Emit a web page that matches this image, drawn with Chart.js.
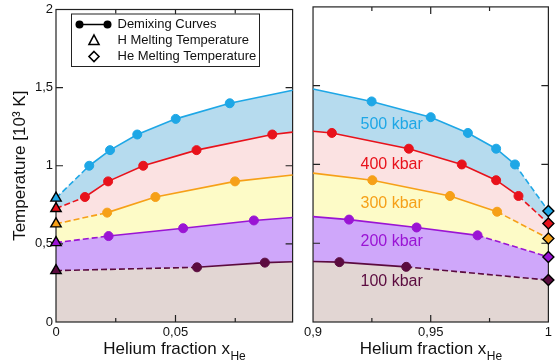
<!DOCTYPE html>
<html>
<head>
<meta charset="utf-8">
<script src="https://cdn.jsdelivr.net/npm/chart.js@4.4.1/dist/chart.umd.min.js"></script>
<style>
  html, body { margin: 0; padding: 0; background: #fff; }
  #wrap { position: relative; width: 556px; height: 363px; overflow: hidden; }
  canvas { position: absolute; top: 0; }
</style>
</head>
<body>
<div id="wrap">
  <canvas id="left" width="300" height="363" style="left:0"></canvas>
  <canvas id="right" width="256" height="363" style="left:300px"></canvas>
</div>
<script>
// demixing curves, temperatures in 10^3 K
const pressures = ['100 kbar', '200 kbar', '300 kbar', '400 kbar', '500 kbar'];

// H-rich side: first point is the H melting temperature (x = 0)
const xL100 = [0, 0.059, 0.0874, 0.099];
const tL100 = [0.329, 0.35, 0.38, 0.386];
const xL200 = [0, 0.022, 0.0532, 0.0828, 0.099];
const tL200 = [0.508, 0.55, 0.6, 0.65, 0.669];
const xL300 = [0, 0.0214, 0.0416, 0.0749, 0.099];
const tL300 = [0.628, 0.7, 0.8, 0.9, 0.941];
const xL400 = [0, 0.0121, 0.0218, 0.0365, 0.0588, 0.0905, 0.099];
const tL400 = [0.726, 0.8, 0.9, 1.0, 1.1, 1.2, 1.215];
const xL500 = [0, 0.0139, 0.0226, 0.034, 0.0501, 0.0727, 0.099];
const tL500 = [0.793, 1.0, 1.1, 1.2, 1.3, 1.4, 1.483];

// He-rich side: last point is the He melting temperature (x = 1)
const xR100 = [0.9, 0.9112, 0.9396, 1];
const tR100 = [0.384, 0.38, 0.35, 0.266];
const xR200 = [0.9, 0.9153, 0.944, 0.9699, 1];
const tR200 = [0.669, 0.65, 0.6, 0.55, 0.413];
const xR300 = [0.9, 0.9252, 0.9582, 0.9782, 1];
const tR300 = [0.945, 0.9, 0.8, 0.7, 0.53];
const xR400 = [0.9, 0.908, 0.9407, 0.9632, 0.9778, 0.9873, 1];
const tR400 = [1.211, 1.2, 1.1, 1.0, 0.9, 0.8, 0.625];
const xR500 = [0.9, 0.9249, 0.95, 0.9658, 0.9778, 0.9858, 1];
const tR500 = [1.479, 1.4, 1.3, 1.2, 1.1, 1.0, 0.704];

const yTicks = ['0', '0,5', '1', '1,5', '2'];
const xTicksL = ['0', '0,05'];
const xTicksR = ['0,9', '0,95', '1'];

const lineColors = ['#5b0b3f', '#9a14d4', '#f6a018', '#e8121b', '#1ea7e6'];
const fillColors = ['#e2d6d3', '#cfa7fa', '#fdfbc7', '#fbe2e2', '#b6dbee'];

const FONT = "'Liberation Sans', Arial, sans-serif";
const zip = (xs, ys) => xs.map((x, i) => ({ x: x, y: ys[i] }));

function makeSets(xsList, tsList, side) {
  const lines = xsList.map((xs, k) => {
    const n = xs.length;
    const col = lineColors[k];
    const isMelt = i => side === 'L' ? i === 0 : i === n - 1;
    const isEdge = i => side === 'L' ? i === n - 1 : i === 0;
    return {
      label: pressures[k],
      data: zip(xs, tsList[k]),
      borderColor: col,
      borderWidth: 1.6,
      fill: false,
      tension: 0,
      clip: false,
      pointStyle: xs.map((v, i) => isMelt(i) ? (side === 'L' ? 'triangle' : 'rectRot') : 'circle'),
      pointRadius: xs.map((v, i) => isEdge(i) ? 0 : (isMelt(i) ? (side === 'L' ? 6 : 5.5) : 4.5)),
      pointBackgroundColor: col,
      pointBorderColor: xs.map((v, i) => isMelt(i) ? '#000' : col),
      pointBorderWidth: xs.map((v, i) => isMelt(i) ? 1.4 : 1),
      segment: {
        borderDash: c => {
          if (side === 'L') return c.p0DataIndex === 0 ? [6, 3] : undefined;
          return c.p1DataIndex === n - 1 ? [6, 3] : undefined;
        }
      }
    };
  });
  // shaded bands: each curve filled down to zero, upper curves painted first
  const bands = xsList.map((xs, k) => ({
    label: pressures[k] + ' band',
    data: zip(xs, tsList[k]),
    borderColor: 'rgba(0,0,0,0)',
    borderWidth: 0,
    backgroundColor: fillColors[k],
    fill: 'origin',
    tension: 0,
    pointRadius: 0
  }));
  return lines.concat(bands);
}

const frameTicks = {
  id: 'frameTicks',
  beforeDatasetsDraw(chart, args, o) {
    const { ctx, chartArea: a, scales: { x, y } } = chart;
    ctx.save();
    ctx.strokeStyle = '#222';
    ctx.lineWidth = 1.2;
    ctx.strokeRect(a.left, a.top, a.right - a.left, a.bottom - a.top);
    ctx.beginPath();
    o.xMajor.concat(o.xMinor).forEach(v => {
      const px = x.getPixelForValue(v);
      const len = o.xMajor.includes(v) ? 7 : 4;
      ctx.moveTo(px, a.bottom); ctx.lineTo(px, a.bottom - len);
      ctx.moveTo(px, a.top); ctx.lineTo(px, a.top + len);
    });
    o.yMajor.forEach(v => {
      const py = y.getPixelForValue(v);
      ctx.moveTo(a.left, py); ctx.lineTo(a.left + 7, py);
      ctx.moveTo(a.right, py); ctx.lineTo(a.right - 7, py);
    });
    ctx.stroke();
    ctx.restore();
  },
  afterDraw(chart, args, o) {
    const { ctx, chartArea: a } = chart;
    // x axis title with subscript
    ctx.save();
    ctx.fillStyle = '#111';
    ctx.textBaseline = 'alphabetic';
    ctx.font = '17px ' + FONT;
    const main = 'Helium fraction x';
    const w1 = ctx.measureText(main).width;
    ctx.font = '12px ' + FONT;
    const w2 = ctx.measureText('He').width;
    const cx = (a.left + a.right) / 2;
    const x0 = cx - (w1 + w2) / 2;
    ctx.font = '17px ' + FONT;
    ctx.textAlign = 'left';
    ctx.fillText(main, x0, 354);
    ctx.font = '12px ' + FONT;
    ctx.fillText('He', x0 + w1 + 0.5, 360);
    ctx.restore();
  }
};

// legend inside the left panel
const legendBox = {
  id: 'legendBox',
  afterDraw(chart) {
    const ctx = chart.ctx;
    ctx.save();
    ctx.fillStyle = '#fff';
    ctx.fillRect(71.5, 14, 188, 52.5);
    ctx.strokeStyle = '#222';
    ctx.lineWidth = 1;
    ctx.strokeRect(71.5, 14, 188, 52.5);
    // demixing curve symbol
    ctx.strokeStyle = '#000';
    ctx.fillStyle = '#000';
    ctx.lineWidth = 1.5;
    ctx.beginPath(); ctx.moveTo(79.5, 24.5); ctx.lineTo(107.5, 24.5); ctx.stroke();
    [79.5, 107.5].forEach(cx => { ctx.beginPath(); ctx.arc(cx, 24.5, 4, 0, Math.PI * 2); ctx.fill(); });
    // open triangle
    ctx.lineWidth = 1.6;
    ctx.beginPath();
    ctx.moveTo(94, 35); ctx.lineTo(99, 44.5); ctx.lineTo(89, 44.5); ctx.closePath();
    ctx.stroke();
    // open diamond
    ctx.beginPath();
    ctx.moveTo(94, 51.5); ctx.lineTo(99, 56.5); ctx.lineTo(94, 61.5); ctx.lineTo(89, 56.5); ctx.closePath();
    ctx.stroke();
    ctx.fillStyle = '#111';
    ctx.font = '13px ' + FONT;
    ctx.textBaseline = 'middle';
    ctx.fillText('Demixing Curves', 117.5, 24.5);
    ctx.fillText('H Melting Temperature', 117.5, 40.5);
    ctx.fillText('He Melting Temperature', 117.5, 56.5);
    ctx.restore();
  }
};

// pressure labels inside the right panel
const labelX = 0.9334;
const labelT = [0.255, 0.508, 0.751, 0.998, 1.253];
const pressureLabels = {
  id: 'pressureLabels',
  afterDatasetsDraw(chart) {
    const { ctx, scales: { x, y } } = chart;
    ctx.save();
    ctx.font = '16px ' + FONT;
    ctx.textAlign = 'center';
    ctx.textBaseline = 'middle';
    pressures.forEach((p, k) => {
      ctx.fillStyle = lineColors[k];
      ctx.fillText(p, x.getPixelForValue(labelX), y.getPixelForValue(labelT[k]));
    });
    ctx.restore();
  }
};

function fmt(v) { return String(+v.toFixed(3)).replace('.', ','); }

const tickFont = { family: FONT, size: 13, lineHeight: 1 };

new Chart(document.getElementById('left'), {
  type: 'line',
  data: { datasets: makeSets([xL100, xL200, xL300, xL400, xL500], [tL100, tL200, tL300, tL400, tL500], 'L') },
  options: {
    responsive: false,
    devicePixelRatio: 1,
    animation: false,
    layout: { padding: { top: 6, right: 7, left: 0, bottom: 0 } },
    plugins: {
      legend: { display: false },
      tooltip: { enabled: false },
      filler: { drawTime: 'beforeDatasetsDraw' },
      frameTicks: { xMajor: [0.05], xMinor: [0.025, 0.075], yMajor: [0.5, 1, 1.5] }
    },
    scales: {
      x: {
        type: 'linear', min: 0, max: 0.099,
        grid: { display: false, drawTicks: false },
        border: { display: false },
        afterFit: s => { s.height = 41; },
        afterBuildTicks: s => { s.ticks = [{ value: 0 }, { value: 0.05 }]; },
        ticks: {
          autoSkip: false, maxRotation: 0, padding: 4, color: '#111', font: tickFont,
          callback: v => xTicksL.includes(fmt(v)) ? fmt(v) : ''
        }
      },
      y: {
        min: 0, max: 2,
        grid: { display: false, drawTicks: false },
        border: { display: false },
        afterFit: s => { s.width = 56; },
        afterBuildTicks: s => { s.ticks = [0, 0.5, 1, 1.5, 2].map(v => ({ value: v })); },
        ticks: { padding: 3, color: '#111', font: tickFont, callback: (v, i) => yTicks[i] },
        title: {
          display: true, text: 'Temperature [10³ K]', color: '#111',
          font: { family: FONT, size: 17, lineHeight: 1.2 },
          padding: { top: 10, bottom: 0 }
        }
      }
    }
  },
  plugins: [frameTicks, legendBox]
});

new Chart(document.getElementById('right'), {
  type: 'line',
  data: { datasets: makeSets([xR100, xR200, xR300, xR400, xR500], [tR100, tR200, tR300, tR400, tR500], 'R') },
  options: {
    responsive: false,
    devicePixelRatio: 1,
    animation: false,
    layout: { padding: { top: 6, right: 6.7, left: 0, bottom: 0 } },
    plugins: {
      legend: { display: false },
      tooltip: { enabled: false },
      filler: { drawTime: 'beforeDatasetsDraw' },
      frameTicks: { xMajor: [0.95], xMinor: [0.925, 0.975], yMajor: [0.5, 1, 1.5] }
    },
    scales: {
      x: {
        type: 'linear', min: 0.9, max: 1,
        grid: { display: false, drawTicks: false },
        border: { display: false },
        afterFit: s => { s.height = 41; },
        afterBuildTicks: s => { s.ticks = [{ value: 0.9 }, { value: 0.95 }, { value: 1 }]; },
        ticks: {
          autoSkip: false, maxRotation: 0, padding: 4, color: '#111', font: tickFont,
          callback: v => xTicksR.includes(fmt(v)) ? fmt(v) : ''
        }
      },
      y: {
        min: 0, max: 2,
        grid: { display: false, drawTicks: false },
        border: { display: false },
        afterFit: s => { s.width = 12.7; },
        ticks: { display: false }
      }
    }
  },
  plugins: [frameTicks, pressureLabels]
});
</script>
</body>
</html>
